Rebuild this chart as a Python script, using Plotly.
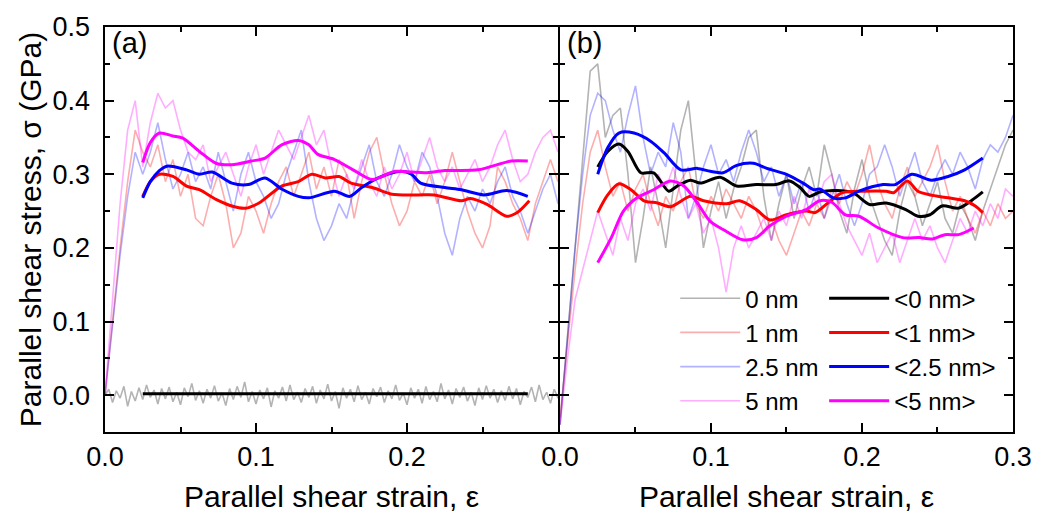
import numpy as np
import plotly.graph_objects as go

# ---------------- data ----------------
STRAIN_RAW = [round(0.005 * i, 3) for i in range(61)]

# panel (a) raw curves
A_RAW_1NM = [0.00, 0.10, 0.20, 0.29, 0.36, 0.33, 0.31, 0.34, 0.29, 0.32, 0.27, 0.30, 0.24, 0.23, 0.27, 0.30,
             0.26, 0.20, 0.22, 0.27, 0.25, 0.22, 0.26, 0.29, 0.31, 0.27, 0.30, 0.33, 0.28, 0.31, 0.27, 0.32,
             0.30, 0.24, 0.29, 0.33, 0.35, 0.30, 0.26, 0.23, 0.25, 0.29, 0.27, 0.30, 0.26, 0.29, 0.33, 0.29,
             0.25, 0.22, 0.20, 0.23, 0.31, 0.29, 0.26, 0.24, 0.21, 0.26, 0.29, 0.32, 0.29]
A_RAW_25NM = [0.00, 0.10, 0.19, 0.27, 0.33, 0.30, 0.33, 0.37, 0.32, 0.28, 0.30, 0.33, 0.29, 0.31, 0.28, 0.33,
              0.29, 0.25, 0.30, 0.33, 0.29, 0.27, 0.24, 0.26, 0.30, 0.33, 0.36, 0.29, 0.24, 0.21, 0.23, 0.26,
              0.24, 0.28, 0.31, 0.34, 0.29, 0.27, 0.30, 0.34, 0.31, 0.29, 0.33, 0.31, 0.27, 0.22, 0.19, 0.24,
              0.27, 0.25, 0.28, 0.26, 0.29, 0.31, 0.27, 0.25, 0.22, 0.25, 0.28, 0.30, 0.26]
A_RAW_5NM = [0.00, 0.13, 0.26, 0.36, 0.40, 0.31, 0.37, 0.41, 0.39, 0.40, 0.36, 0.33, 0.32, 0.34, 0.29, 0.31,
             0.33, 0.30, 0.27, 0.31, 0.34, 0.30, 0.33, 0.36, 0.34, 0.32, 0.35, 0.38, 0.34, 0.36, 0.31, 0.27,
             0.30, 0.28, 0.32, 0.29, 0.27, 0.31, 0.28, 0.30, 0.33, 0.29, 0.32, 0.35, 0.31, 0.29, 0.31, 0.28,
             0.30, 0.32, 0.29, 0.31, 0.34, 0.36, 0.32, 0.29, 0.30, 0.33, 0.35, 0.36, 0.33]
A_RAW_0NM = [0.000, 0.008, -0.010, 0.006, -0.004, 0.012, -0.015, 0.005, -0.008, 0.010, -0.006, 0.014, -0.003,
             0.007, -0.012, 0.009, -0.005, 0.011, -0.009, 0.004, -0.013, 0.010, -0.002, 0.016, -0.007, 0.006,
             -0.011, 0.008, -0.004, 0.013, -0.008, 0.003, -0.014, 0.009, -0.006, 0.012, -0.003, 0.018, -0.009,
             0.005, -0.012, 0.007, -0.005, 0.010, -0.016, 0.006, -0.004, 0.011, -0.008, 0.014, -0.006, 0.004,
             -0.010, 0.009, -0.003, 0.012, -0.011, 0.007, -0.005, 0.015, -0.008, 0.005, -0.018, 0.010, -0.004,
             0.008, -0.009, 0.013, -0.006, 0.004, -0.012, 0.009, -0.002, 0.011, -0.010, 0.006, -0.005, 0.014,
             -0.007, 0.003, -0.013, 0.010, -0.004, 0.008, -0.011, 0.012, -0.006, 0.005, -0.009, 0.016, -0.005,
             0.007, -0.012, 0.009, -0.003, 0.011, -0.008, 0.004, -0.014, 0.010, -0.006, 0.013, -0.004, 0.008,
             -0.010, 0.006, -0.007, 0.012, -0.005, 0.009, -0.013, 0.005, -0.003, 0.011, -0.009, 0.014, -0.006,
             0.004, -0.011, 0.008, -0.004]
STRAIN_RAW_0NM = list(np.linspace(0, 0.3, len(A_RAW_0NM)))

# panel (a) averaged curves
A_AVG_0NM_X = [0.025, 0.075, 0.125, 0.175, 0.225, 0.280]
A_AVG_0NM_Y = [0.002, 0.002, 0.002, 0.002, 0.002, 0.002]
A_AVG_1NM_X = [0.025, 0.030, 0.036, 0.045, 0.054, 0.0625, 0.0735, 0.084, 0.093, 0.102, 0.117, 0.128, 0.137,
               0.146, 0.155, 0.163, 0.177, 0.190, 0.207, 0.218, 0.236, 0.242, 0.253, 0.266, 0.273, 0.281]
A_AVG_1NM_Y = [0.270, 0.290, 0.300, 0.297, 0.284, 0.279, 0.266, 0.257, 0.254, 0.261, 0.284, 0.290, 0.300,
               0.295, 0.297, 0.288, 0.282, 0.273, 0.272, 0.272, 0.264, 0.267, 0.259, 0.243, 0.248, 0.264]
A_AVG_25NM_X = [0.025, 0.030, 0.036, 0.041, 0.054, 0.0625, 0.071, 0.084, 0.095, 0.106, 0.117, 0.128, 0.135,
                0.152, 0.162, 0.170, 0.181, 0.196, 0.203, 0.209, 0.225, 0.236, 0.251, 0.266, 0.280]
A_AVG_25NM_Y = [0.268, 0.290, 0.305, 0.311, 0.306, 0.300, 0.303, 0.288, 0.286, 0.295, 0.280, 0.270, 0.268,
                0.277, 0.270, 0.282, 0.295, 0.304, 0.300, 0.288, 0.282, 0.279, 0.272, 0.278, 0.270]
A_AVG_5NM_X = [0.025, 0.030, 0.036, 0.045, 0.0515, 0.0625, 0.0735, 0.084, 0.097, 0.106, 0.117, 0.128, 0.135,
               0.141, 0.152, 0.166, 0.177, 0.192, 0.203, 0.212, 0.225, 0.247, 0.269, 0.280]
A_AVG_5NM_Y = [0.316, 0.343, 0.356, 0.352, 0.349, 0.331, 0.315, 0.313, 0.318, 0.322, 0.340, 0.346, 0.340,
               0.327, 0.320, 0.304, 0.293, 0.304, 0.303, 0.302, 0.305, 0.306, 0.318, 0.318]

# panel (b) raw curves
B_RAW_0NM = [-0.04, 0.08, 0.20, 0.32, 0.44, 0.45, 0.35, 0.38, 0.39, 0.30, 0.18, 0.24, 0.31, 0.26, 0.20, 0.28,
             0.36, 0.40, 0.30, 0.20, 0.25, 0.29, 0.24, 0.28, 0.31, 0.35, 0.36, 0.27, 0.21, 0.26, 0.30, 0.24,
             0.28, 0.31, 0.27, 0.34, 0.30, 0.25, 0.22, 0.28, 0.32, 0.27, 0.24, 0.21, 0.19, 0.25, 0.29, 0.27,
             0.23, 0.26, 0.29, 0.24, 0.22, 0.26, 0.24, 0.21, 0.25, 0.28, 0.31, 0.34, 0.36]
B_RAW_1NM = [-0.03, 0.07, 0.17, 0.26, 0.33, 0.36, 0.31, 0.27, 0.29, 0.25, 0.28, 0.30, 0.26, 0.23, 0.27, 0.25,
             0.29, 0.31, 0.26, 0.24, 0.27, 0.25, 0.28, 0.26, 0.24, 0.27, 0.25, 0.22, 0.24, 0.21, 0.19, 0.22,
             0.25, 0.23, 0.26, 0.24, 0.28, 0.26, 0.29, 0.27, 0.30, 0.34, 0.29, 0.26, 0.24, 0.28, 0.31, 0.27,
             0.29, 0.31, 0.34, 0.29, 0.25, 0.27, 0.24, 0.22, 0.25, 0.23, 0.26, 0.24, 0.25]
B_RAW_25NM = [-0.04, 0.08, 0.20, 0.30, 0.38, 0.41, 0.40, 0.36, 0.33, 0.38, 0.42, 0.35, 0.30, 0.33, 0.31, 0.37,
              0.33, 0.24, 0.27, 0.31, 0.34, 0.30, 0.32, 0.29, 0.33, 0.36, 0.33, 0.29, 0.31, 0.27, 0.30, 0.26,
              0.29, 0.25, 0.28, 0.24, 0.27, 0.30, 0.26, 0.23, 0.26, 0.30, 0.31, 0.34, 0.31, 0.27, 0.30, 0.33,
              0.29, 0.27, 0.30, 0.32, 0.30, 0.33, 0.31, 0.28, 0.32, 0.34, 0.33, 0.35, 0.38]
B_RAW_5NM = [-0.04, 0.05, 0.13, 0.17, 0.21, 0.25, 0.22, 0.19, 0.24, 0.21, 0.26, 0.28, 0.25, 0.30, 0.28, 0.31,
             0.27, 0.24, 0.26, 0.22, 0.24, 0.20, 0.14, 0.20, 0.23, 0.20, 0.22, 0.24, 0.21, 0.25, 0.23, 0.27,
             0.24, 0.28, 0.26, 0.29, 0.30, 0.26, 0.23, 0.21, 0.19, 0.22, 0.18, 0.20, 0.22, 0.18, 0.21, 0.24,
             0.21, 0.23, 0.20, 0.18, 0.21, 0.24, 0.22, 0.25, 0.23, 0.26, 0.24, 0.28, 0.27]

# panel (b) averaged curves
B_AVG_0NM_X = [0.025, 0.0316, 0.039, 0.045, 0.0535, 0.062, 0.072, 0.0776, 0.0864, 0.093, 0.106, 0.117, 0.130,
               0.143, 0.152, 0.159, 0.165, 0.172, 0.183, 0.194, 0.205, 0.216, 0.229, 0.237, 0.245, 0.253, 0.264,
               0.273, 0.280]
B_AVG_0NM_Y = [0.310, 0.331, 0.341, 0.331, 0.302, 0.302, 0.277, 0.284, 0.292, 0.288, 0.296, 0.284, 0.286,
               0.286, 0.291, 0.282, 0.270, 0.276, 0.278, 0.275, 0.259, 0.261, 0.252, 0.243, 0.245, 0.257, 0.254,
               0.265, 0.276]
B_AVG_1NM_X = [0.025, 0.0316, 0.039, 0.047, 0.0557, 0.0645, 0.0733, 0.0864, 0.095, 0.1105, 0.119, 0.130, 0.139,
               0.150, 0.163, 0.169, 0.178, 0.187, 0.200, 0.216, 0.221, 0.230, 0.237, 0.245, 0.257, 0.268, 0.275,
               0.280]
B_AVG_1NM_Y = [0.248, 0.272, 0.287, 0.279, 0.264, 0.261, 0.256, 0.270, 0.264, 0.260, 0.264, 0.252, 0.238,
               0.245, 0.250, 0.248, 0.262, 0.275, 0.277, 0.277, 0.275, 0.291, 0.277, 0.272, 0.268, 0.264, 0.257,
               0.248]
B_AVG_25NM_X = [0.025, 0.0316, 0.039, 0.049, 0.060, 0.069, 0.080, 0.091, 0.0995, 0.108, 0.117, 0.128, 0.137,
                0.150, 0.161, 0.168, 0.172, 0.181, 0.189, 0.198, 0.214, 0.222, 0.233, 0.246, 0.257, 0.268, 0.280]
B_AVG_25NM_Y = [0.300, 0.336, 0.356, 0.356, 0.345, 0.329, 0.306, 0.308, 0.304, 0.302, 0.312, 0.315, 0.308,
                0.300, 0.288, 0.279, 0.280, 0.268, 0.268, 0.277, 0.286, 0.286, 0.300, 0.292, 0.297, 0.306, 0.322]
B_AVG_5NM_X = [0.025, 0.034, 0.042, 0.051, 0.062, 0.073, 0.082, 0.091, 0.0995, 0.108, 0.121, 0.130, 0.139,
               0.150, 0.163, 0.172, 0.180, 0.189, 0.198, 0.211, 0.227, 0.238, 0.246, 0.255, 0.264, 0.274]
B_AVG_5NM_Y = [0.180, 0.214, 0.250, 0.268, 0.279, 0.291, 0.284, 0.261, 0.236, 0.225, 0.211, 0.214, 0.230,
               0.243, 0.252, 0.264, 0.262, 0.245, 0.243, 0.227, 0.214, 0.214, 0.212, 0.218, 0.218, 0.227]

RAW_NAMES = ["0 nm", "1 nm", "2.5 nm", "5 nm"]
AVG_NAMES = ["<0 nm>", "<1 nm>", "<2.5 nm>", "<5 nm>"]
X_TICKS_A = [0.0, 0.1, 0.2]
X_TICKS_B = [0.0, 0.1, 0.2, 0.3]
Y_TICKS = [0.0, 0.1, 0.2, 0.3, 0.4, 0.5]

# ---------------- styles ----------------
RAW_COLORS = ["rgba(128,128,128,0.6)", "rgba(245,0,0,0.32)", "rgba(0,0,255,0.3)", "rgba(255,0,255,0.32)"]
AVG_COLORS = ["#000000", "#ff0000", "#0000ff", "#ff00ff"]
FONT = "Liberation Sans, Arial, sans-serif"
PLOT_W = 1044 - 105 - 26
HALF_GAP = 1.0 / PLOT_W

fig = go.Figure()

def raw(x, y, i, xa, ya, show):
    fig.add_trace(go.Scatter(x=x, y=y, mode="lines", name=RAW_NAMES[i], xaxis=xa, yaxis=ya,
                             line=dict(color=RAW_COLORS[i], width=1.6), showlegend=show,
                             legend="legend"))

def avg(x, y, i, xa, ya, show):
    fig.add_trace(go.Scatter(x=x, y=y, mode="lines", name=AVG_NAMES[i], xaxis=xa, yaxis=ya,
                             line=dict(color=AVG_COLORS[i], width=3, shape="spline", smoothing=0.8),
                             showlegend=show, legend="legend2"))

# panel a
raw(STRAIN_RAW_0NM, A_RAW_0NM, 0, "x", "y", False)
raw(STRAIN_RAW, A_RAW_1NM, 1, "x", "y", False)
raw(STRAIN_RAW, A_RAW_25NM, 2, "x", "y", False)
raw(STRAIN_RAW, A_RAW_5NM, 3, "x", "y", False)
avg(A_AVG_0NM_X, A_AVG_0NM_Y, 0, "x", "y", False)
avg(A_AVG_1NM_X, A_AVG_1NM_Y, 1, "x", "y", False)
avg(A_AVG_25NM_X, A_AVG_25NM_Y, 2, "x", "y", False)
avg(A_AVG_5NM_X, A_AVG_5NM_Y, 3, "x", "y", False)
# panel b
raw(STRAIN_RAW, B_RAW_0NM, 0, "x2", "y2", True)
raw(STRAIN_RAW, B_RAW_1NM, 1, "x2", "y2", True)
raw(STRAIN_RAW, B_RAW_25NM, 2, "x2", "y2", True)
raw(STRAIN_RAW, B_RAW_5NM, 3, "x2", "y2", True)
avg(B_AVG_0NM_X, B_AVG_0NM_Y, 0, "x2", "y2", True)
avg(B_AVG_1NM_X, B_AVG_1NM_Y, 1, "x2", "y2", True)
avg(B_AVG_25NM_X, B_AVG_25NM_Y, 2, "x2", "y2", True)
avg(B_AVG_5NM_X, B_AVG_5NM_Y, 3, "x2", "y2", True)

TICK_FONT = dict(size=27, family=FONT, color="black")
axis_common = dict(showline=True, linecolor="black", linewidth=2, mirror="allticks", ticks="inside",
                   ticklen=9, tickwidth=1.5, tickcolor="black", showgrid=False, zeroline=False,
                   tickfont=TICK_FONT)
minor_x = dict(tickvals=[0.05, 0.15, 0.25], ticks="inside", ticklen=5, tickwidth=1.5, tickcolor="black",
               showgrid=False)
minor_y = dict(tickvals=[0.05, 0.15, 0.25, 0.35, 0.45], ticks="inside", ticklen=5, tickwidth=1.5,
               tickcolor="black", showgrid=False)
title_font = dict(size=30, family=FONT, color="black")

fig.update_layout(
    width=1044, height=525,
    margin=dict(l=105, r=26, t=25, b=93),
    plot_bgcolor="white", paper_bgcolor="white",
    font=dict(family=FONT, size=25, color="black"),
    xaxis=dict(domain=[0, 0.5 - HALF_GAP], range=[0, 0.3], anchor="y", tickvals=X_TICKS_A,
               ticktext=[f"{v:.1f}" for v in X_TICKS_A], minor=minor_x,
               title=dict(text="Parallel shear strain, ε", font=title_font, standoff=15), **axis_common),
    xaxis2=dict(domain=[0.5 + HALF_GAP, 1], range=[0, 0.3], anchor="y2", tickvals=X_TICKS_B,
                ticktext=[f"{v:.1f}" for v in X_TICKS_B], minor=minor_x,
                title=dict(text="Parallel shear strain, ε", font=title_font, standoff=15), **axis_common),
    yaxis=dict(range=[-0.05, 0.5], anchor="x", tickvals=Y_TICKS,
               ticktext=[f"{v:.1f}\u00a0" for v in Y_TICKS], minor=minor_y,
               title=dict(text="Parallel shear stress, σ (GPa)", font=title_font, standoff=2),
               **axis_common),
    yaxis2=dict(range=[-0.05, 0.5], anchor="x2", matches="y", tickvals=Y_TICKS, showticklabels=False,
                minor=minor_y, **axis_common),
    legend=dict(x=0.628, y=0.385, xanchor="left", yanchor="top", bgcolor="rgba(0,0,0,0)",
                font=dict(size=24, family=FONT, color="black"), itemwidth=60, tracegroupgap=0,
                traceorder="normal"),
    legend2=dict(x=0.792, y=0.385, xanchor="left", yanchor="top", bgcolor="rgba(0,0,0,0)",
                 font=dict(size=24, family=FONT, color="black"), itemwidth=60, tracegroupgap=0,
                 traceorder="normal"),
    annotations=[
        dict(text="(a)", xref="x domain", yref="y domain", x=0.012, y=1.005, xanchor="left", yanchor="top",
             showarrow=False, font=dict(size=29, family=FONT, color="black")),
        dict(text="(b)", xref="x2 domain", yref="y2 domain", x=0.012, y=1.005, xanchor="left", yanchor="top",
             showarrow=False, font=dict(size=29, family=FONT, color="black")),
    ],
)

fig.write_html("out.html")
